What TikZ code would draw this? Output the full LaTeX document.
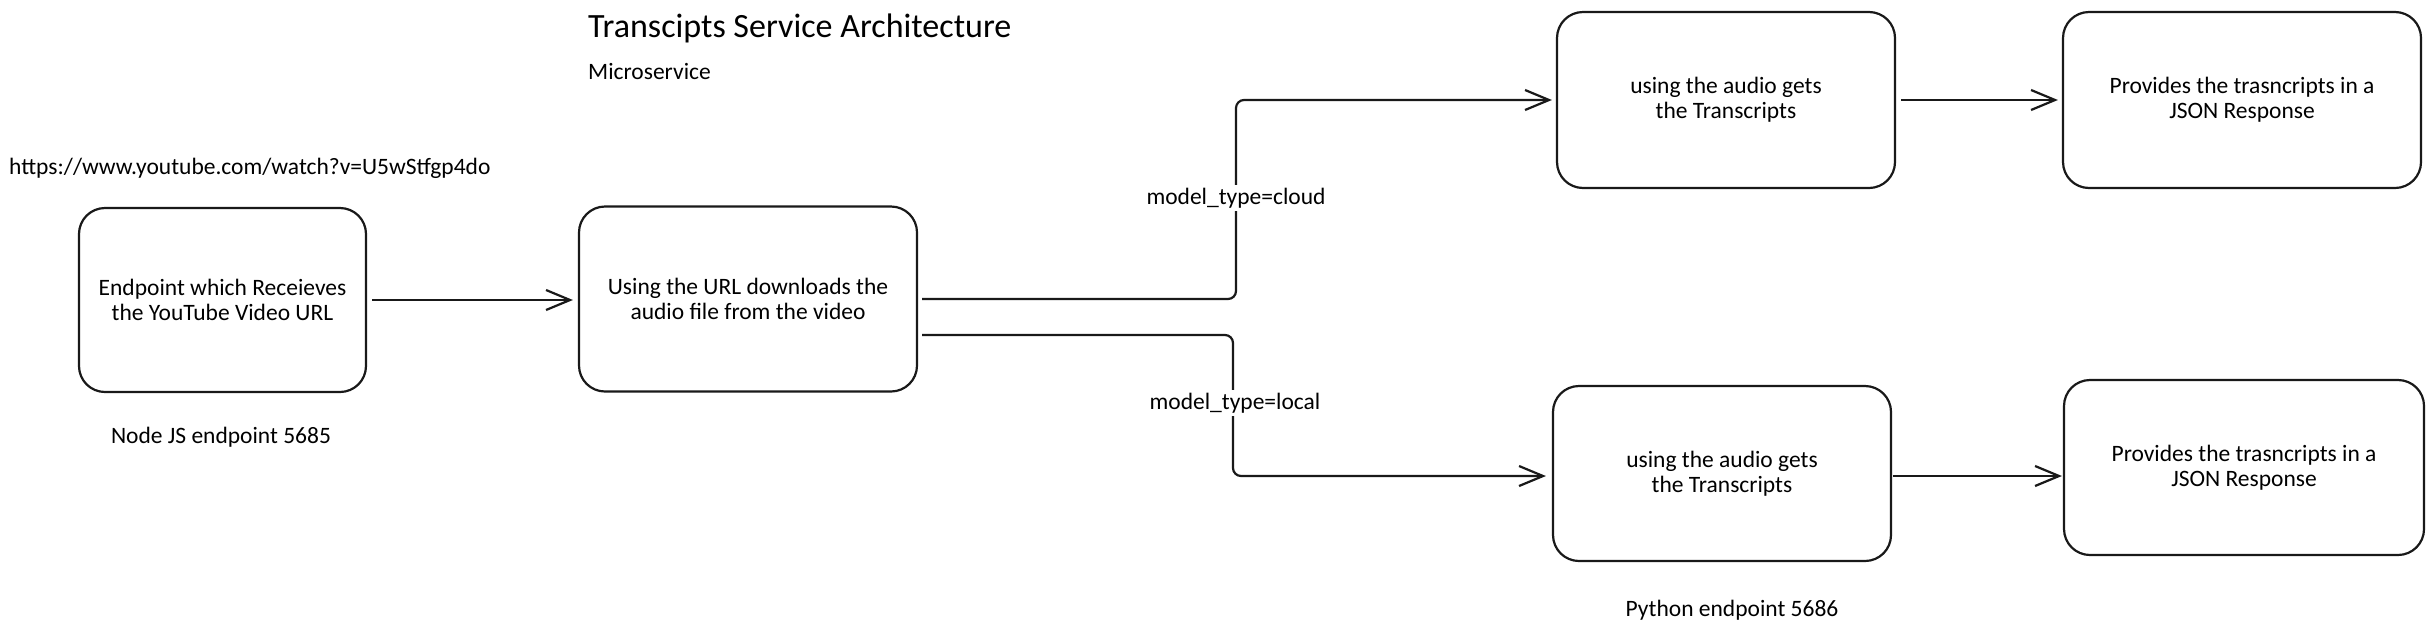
\documentclass[tikz,border=0pt]{standalone}
\usepackage{fontspec}
\setmainfont{Carlito}
\usetikzlibrary{arrows.meta,calc}
\tikzset{
  box/.style={draw=black!90, line width=2.2pt, rounded corners=26pt, align=center, inner sep=0pt,
    font=\fontsize{23.5}{25}\selectfont},
  lbl/.style={font=\fontsize{23.5}{25}\selectfont, inner sep=0pt},
  conn/.style={draw=black!90, line width=2.2pt, rounded corners=8pt,
    -{Straight Barb[length=24pt,width=20pt,line width=2.2pt]}},
  masklbl/.style={font=\fontsize{23.5}{25}\selectfont, fill=white, inner sep=3pt},
}
\begin{document}
\begin{tikzpicture}[x=1pt,y=-1pt]
\useasboundingbox (0,0) rectangle (2432,633);
\fill[white] (0,0) rectangle (2432,633);
% texts
\node[lbl, anchor=west, font=\fontsize{34}{38}\selectfont] (title) at (588,28) {Transcipts Service Architecture};
\node[lbl, anchor=west] (micro) at (588,71) {Microservice};
\node[lbl, anchor=west] (url) at (9,168) {https://www.youtube.com/watch?v=U5wStfgp4do};
\node[lbl] (nodejs) at (221,437) {Node JS endpoint 5685};
\node[lbl] (python) at (1732,610) {Python endpoint 5686};
% boxes
\node[box, minimum width=287pt, minimum height=184pt] (b1) at (222.5,300) {Endpoint which Receieves\\the YouTube Video URL};
\node[box, minimum width=338pt, minimum height=185pt] (b2) at (748,299) {Using the URL downloads the\\audio file from the video};
\node[box, minimum width=338pt, minimum height=176pt] (b3) at (1726,100) {using the audio gets\\the Transcripts};
\node[box, minimum width=358pt, minimum height=176pt] (b4) at (2242,100) {Provides the trasncripts in a\\JSON Response};
\node[box, minimum width=338pt, minimum height=175pt] (b5) at (1722,473.5) {using the audio gets\\the Transcripts};
\node[box, minimum width=360pt, minimum height=175pt] (b6) at (2244,467.5) {Provides the trasncripts in a\\JSON Response};
% bend columns of the branching connectors
\coordinate (cx) at (1236,0);
\coordinate (lx) at (1233,0);
\coordinate (lowy) at (0,476);
% connectors
\draw[conn, shorten <=5pt, shorten >=5pt] (b1.east) -- (b1.east -| b2.west);
\draw[conn, shorten <=4pt, shorten >=4pt] (b2.east) -- (b2.east -| cx) -- (b3.west -| cx) -- (b3.west);
\draw[conn, shorten <=4pt, shorten >=6pt] ($(b2.east)+(0,36)$) -- ($(b2.east -| lx)+(0,36)$) -- (lowy -| lx) -- (lowy -| b5.west);
\draw[conn, shorten <=5pt, shorten >=4pt] (b3.east) -- (b4.west);
\draw[conn, shorten <=1pt, shorten >=1pt] (lowy -| b5.east) -- (lowy -| b6.west);
% connector labels
\node[masklbl] (lcloud) at (1236,198) {model\_type=cloud};
\node[masklbl] (llocal) at (1235,403) {model\_type=local};
\end{tikzpicture}
\end{document}
